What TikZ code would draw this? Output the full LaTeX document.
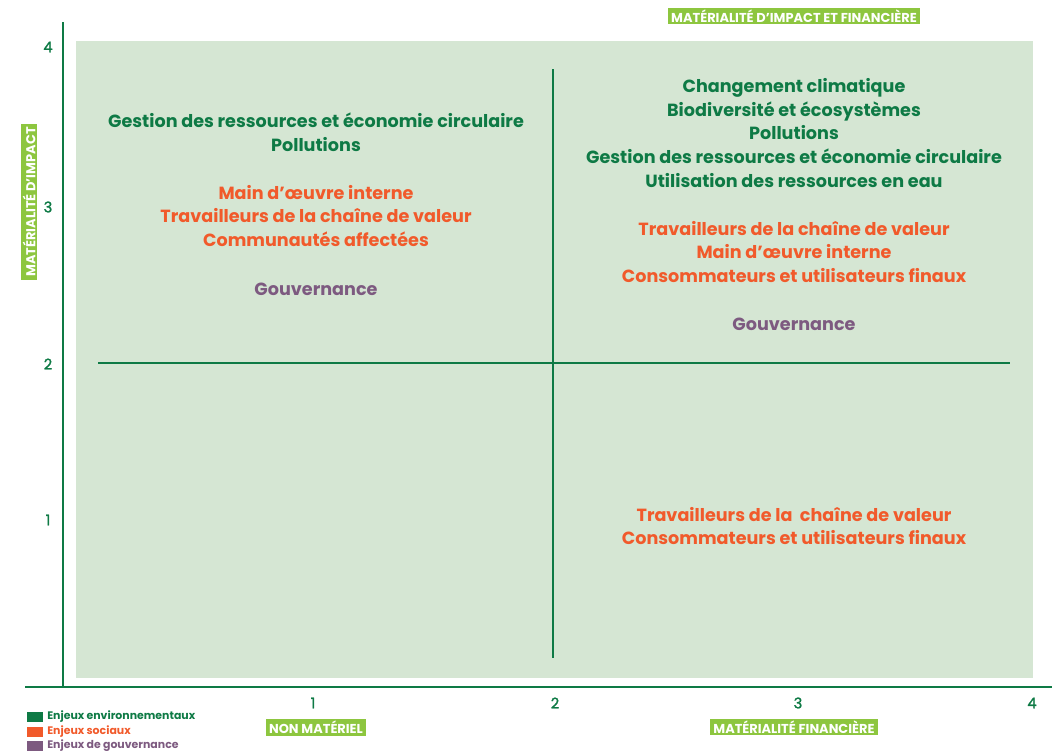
\documentclass[tikz,border=0pt]{standalone}
\usepackage{fontspec}
\setmainfont{Poppins}
\usetikzlibrary{positioning}

\definecolor{envgreen}{HTML}{0E7A45}
\definecolor{socorange}{HTML}{F15A2B}
\definecolor{govpurple}{HTML}{7D5A80}
\definecolor{zonegreen}{HTML}{D5E6D3}
\definecolor{tagGreen}{HTML}{8DC63F}

\tikzset{
  axis/.style = {draw=envgreen, line width=2.2pt},
  cross/.style = {draw=envgreen, line width=1.9pt},
  tick/.style = {text=envgreen, font=\fontsize{11}{12}\selectfont\addfontfeatures{FakeBold=1.5}},
  tag/.style = {fill=tagGreen, text=white, inner xsep=2.5pt, inner ysep=1.6pt, font=\bfseries\fontsize{9.7}{10}\selectfont},
  issue/.style = {align=center, font=\bfseries\fontsize{13.2}{17.8}\selectfont},
  env/.style = {issue, text=envgreen},
  soc/.style = {issue, text=socorange},
  gov/.style = {issue, text=govpurple},
  keybox/.style = {minimum width=12pt, minimum height=8pt, inner sep=0pt},
  keytext/.style = {font=\bfseries\fontsize{8.2}{9}\selectfont, inner sep=0pt, anchor=west}
}

\begin{document}
\begin{tikzpicture}[x=0.75pt, y=-0.75pt]
	\useasboundingbox (0,0) rectangle (1054,754);

	% matrix background
	\fill[zonegreen] (76,41) rectangle (1033,678);

	% axes
	\coordinate (yTop) at (63,22);
	\coordinate (yBot) at (63,688);
	\coordinate (xLeft) at (25,687);
	\coordinate (xRight) at (1052,687);
	\draw[axis] (yTop) -- (yBot);
	\draw[axis] (xLeft) -- (xRight);

	% quadrant cross
	\coordinate (vTop) at (553,69);
	\coordinate (vBot) at (553,658);
	\coordinate (hLeft) at (98,363);
	\coordinate (hRight) at (1010,363);
	\draw[cross] (vTop) -- (vBot);
	\draw[cross] (hLeft) -- (hRight);

	% ticks
	\node[tick] (y4) at (48,47) {4};
	\node[tick] (y3) at (48,207) {3};
	\node[tick] (y2) at (48,364) {2};
	\node[tick] (y1) at (48,520) {1};
	\node[tick] (x1) at (313,703) {1};
	\node[tick] (x2) at (555,703) {2};
	\node[tick] (x3) at (798,703) {3};
	\node[tick] (x4) at (1032,703) {4};

	% axis tags
	\node[tag] (tagTop) at (794,16) {MATÉRIALITÉ D’IMPACT ET FINANCIÈRE};
	\node[tag, rotate=90] (tagLeft) at (29,202) {MATÉRIALITÉ D’IMPACT};
	\node[tag] (tagNon) at (316,727) {NON MATÉRIEL};
	\node[tag] (tagFin) at (794,727) {MATÉRIALITÉ FINANCIÈRE};

	% upper left quadrant
	\node[env] (ulEnv) at (316,132) {Gestion des ressources et économie circulaire\\Pollutions};
	\node[soc] (ulSoc) at (316,216) {Main d’œuvre interne\\Travailleurs de la chaîne de valeur\\Communautés affectées};
	\node[gov] (ulGov) at (316,289) {Gouvernance};

	% upper right quadrant
	\node[env] (urEnv) at (794,133) {Changement climatique\\Biodiversité et écosystèmes\\Pollutions\\Gestion des ressources et économie circulaire\\Utilisation des ressources en eau};
	\node[soc] (urSoc) at (794,252) {Travailleurs de la chaîne de valeur\\Main d’œuvre interne\\Consommateurs et utilisateurs finaux};
	\node[gov] (urGov) at (794,324) {Gouvernance};

	% lower right quadrant
	\node[soc] (lrSoc) at (794,526) {Travailleurs de la \ chaîne de valeur\\Consommateurs et utilisateurs finaux};

	% legend
	\node[keybox, fill=envgreen] (keyEnv) at (35,717) {};
	\node[keybox, fill=socorange] (keySoc) at (35,732) {};
	\node[keybox, fill=govpurple] (keyGov) at (35,746) {};
	\node[keytext, text=envgreen] (lblEnv) at (47,717) {Enjeux environnementaux};
	\node[keytext, text=socorange] (lblSoc) at (47,732) {Enjeux sociaux};
	\node[keytext, text=govpurple] (lblGov) at (47,746) {Enjeux de gouvernance};
\end{tikzpicture}
\end{document}
